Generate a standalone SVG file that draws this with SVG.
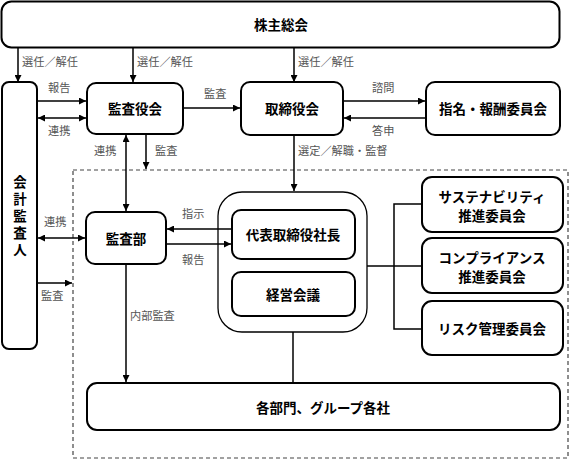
<svg xmlns="http://www.w3.org/2000/svg" width="573" height="459" viewBox="0 0 573 459">
<defs>
<style>
.box{fill:#fff;stroke:#000;stroke-width:2}
.cont{fill:none;stroke:#000;stroke-width:1.3}
.ln{fill:none;stroke:#000;stroke-width:1.5}
.dash{fill:none;stroke:#444;stroke-width:1.2;stroke-dasharray:4 3}
.t{font-family:"Noto Sans CJK JP","Noto Sans CJK SC",sans-serif;font-weight:bold;font-size:13.5px;fill:#000;text-anchor:middle;dominant-baseline:central}
.vt{writing-mode:vertical-rl;letter-spacing:3.5px}
.lb{font-family:"Noto Sans CJK JP","Noto Sans CJK SC",sans-serif;font-size:11.2px;fill:#555}
</style>
<marker id="ah" viewBox="0 0 10 10" refX="10" refY="5" markerWidth="7" markerHeight="7" markerUnits="userSpaceOnUse" orient="auto-start-reverse">
<path d="M0,0 L10,5 L0,10 z" fill="#000"/>
</marker>
</defs>
<rect class="dash" x="73" y="170" width="495" height="288"/>
<g id="connectors">
<line class="ln" x1="18" y1="47" x2="18" y2="82" marker-end="url(#ah)"/>
<line class="ln" x1="133" y1="47" x2="133" y2="82" marker-end="url(#ah)"/>
<line class="ln" x1="294" y1="47" x2="294" y2="82" marker-end="url(#ah)"/>
<line class="ln" x1="37" y1="101" x2="86" y2="101" marker-end="url(#ah)"/>
<line class="ln" x1="38" y1="118" x2="86" y2="118" marker-start="url(#ah)" marker-end="url(#ah)"/>
<line class="ln" x1="183" y1="108" x2="240" y2="108" marker-end="url(#ah)"/>
<line class="ln" x1="343" y1="101" x2="425" y2="101" marker-end="url(#ah)"/>
<line class="ln" x1="426" y1="118" x2="344" y2="118" marker-end="url(#ah)"/>
<line class="ln" x1="126" y1="135" x2="126" y2="211" marker-start="url(#ah)" marker-end="url(#ah)"/>
<line class="ln" x1="146" y1="134" x2="146" y2="169" marker-end="url(#ah)"/>
<line class="ln" x1="294" y1="135" x2="294" y2="191" marker-end="url(#ah)"/>
<line class="ln" x1="38" y1="238" x2="85" y2="238" marker-start="url(#ah)" marker-end="url(#ah)"/>
<line class="ln" x1="37" y1="283" x2="72" y2="283" marker-end="url(#ah)"/>
<line class="ln" x1="232" y1="229" x2="167" y2="229" marker-end="url(#ah)"/>
<line class="ln" x1="166" y1="244" x2="231" y2="244" marker-end="url(#ah)"/>
<line class="ln" x1="126" y1="264" x2="126" y2="382" marker-end="url(#ah)"/>
<line class="ln" x1="293" y1="332" x2="293" y2="383"/>
<line class="ln" x1="367" y1="266" x2="422" y2="266"/>
<polyline class="ln" points="422,204 394,204 394,329 422,329"/>
</g>
<g id="labels">
<text class="lb" x="22" y="66">選任／解任</text>
<text class="lb" x="137" y="66">選任／解任</text>
<text class="lb" x="298" y="66">選任／解任</text>
<text class="lb" x="48" y="92">報告</text>
<text class="lb" x="48" y="135">連携</text>
<text class="lb" x="204" y="98">監査</text>
<text class="lb" x="372" y="92">諮問</text>
<text class="lb" x="372" y="135">答申</text>
<text class="lb" x="94" y="155">連携</text>
<text class="lb" x="155" y="155">監査</text>
<text class="lb" x="298" y="155">選定／解職・監督</text>
<text class="lb" x="44" y="226">連携</text>
<text class="lb" x="41" y="300">監査</text>
<text class="lb" x="182" y="218">指示</text>
<text class="lb" x="182" y="264">報告</text>
<text class="lb" x="130" y="320">内部監査</text>
</g>
<g id="shareholders"><rect class="box" x="1.5" y="1.5" width="558" height="46" rx="10"/><text class="t" x="281" y="24">株主総会</text></g>
<g id="auditor"><rect class="box" x="2" y="82" width="35" height="267" rx="7"/>
<text class="t vt" x="20" y="218">会計監査人</text></g>
<g id="kansayakukai"><rect class="box" x="87" y="83" width="96" height="51" rx="9"/><text class="t" x="135" y="108">監査役会</text></g>
<g id="torishimariyakukai"><rect class="box" x="241" y="82" width="102" height="53" rx="9"/><text class="t" x="292" y="108">取締役会</text></g>
<g id="shimei"><rect class="box" x="426" y="82" width="134" height="53" rx="9"/><text class="t" x="493" y="108">指名・報酬委員会</text></g>
<g id="kansabu"><rect class="box" x="86" y="212" width="80" height="52" rx="9"/><text class="t" x="126" y="238">監査部</text></g>
<g id="executive"><rect class="cont" x="218" y="192" width="149" height="140" rx="24"/></g>
<g id="president"><rect class="box" x="232" y="210" width="123" height="49" rx="9"/><text class="t" x="293" y="234">代表取締役社長</text></g>
<g id="keiei"><rect class="box" x="232" y="272" width="123" height="44" rx="9"/><text class="t" x="293" y="294">経営会議</text></g>
<g id="sustain"><rect class="box" x="422" y="177" width="141" height="55" rx="10"/><text class="t"><tspan x="492" y="196">サステナビリティ</tspan><tspan x="492" y="215">推進委員会</tspan></text></g>
<g id="compliance"><rect class="box" x="422" y="238" width="141" height="55" rx="10"/><text class="t"><tspan x="492" y="257">コンプライアンス</tspan><tspan x="492" y="276">推進委員会</tspan></text></g>
<g id="risk"><rect class="box" x="422" y="301" width="141" height="54" rx="10"/><text class="t" x="492" y="328">リスク管理委員会</text></g>
<g id="departments"><rect class="box" x="87" y="383" width="473" height="47" rx="10"/><text class="t" x="323" y="407">各部門、グループ各社</text></g>
</svg>
